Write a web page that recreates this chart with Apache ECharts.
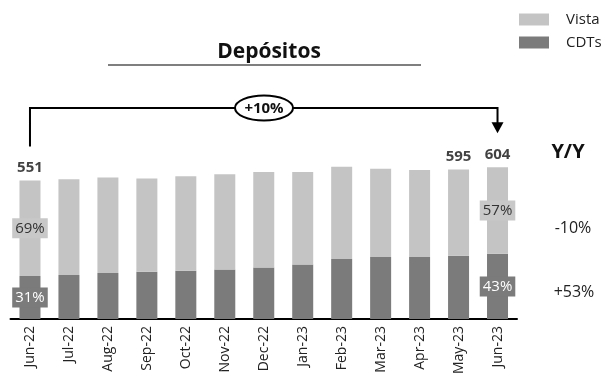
<!DOCTYPE html>
<html><head><meta charset="utf-8">
<script src="https://cdn.jsdelivr.net/npm/echarts@6/dist/echarts.min.js"></script>
<style>html,body{margin:0;padding:0;background:#fff}#c{width:608px;height:377px}</style>
</head><body><div id="c"></div>
<script>
var categories = ['Jun-22','Jul-22','Aug-22','Sep-22','Oct-22','Nov-22','Dec-22','Jan-23','Feb-23','Mar-23','Apr-23','May-23','Jun-23'];
var cdts  = [171,175,183,188,192,197,205,217,239,247,247,252,260];
var vista = [380,381,380,371,376,379,380,368,367,351,346,343,344];
var totals = [551,556,563,559,568,576,585,585,606,598,593,595,604];
var totalLabelIdx = [0,11,12];
var shareLabels = {0:['31%','69%'],12:['43%','57%']};
var yoyLabels = ['-10%','+53%'];
var growthLabel = '+10%';

var FONT = 'Open Sans';
var chart = echarts.init(document.getElementById('c'));

function segData(arr, k, bg, fg) {
  return arr.map(function(v, i) {
    if (shareLabels[i]) {
      return {value: v, label: {show: true, position: 'inside', formatter: shareLabels[i][k],
        backgroundColor: bg, color: fg, fontSize: 15, fontFamily: FONT, padding: [3,3,2,3]}};
    }
    return v;
  });
}

chart.setOption({
  animation: false,
  textStyle: {fontFamily: FONT},
  title: {text: 'Depósitos', left: 264, top: 37, textAlign: 'center',
    textStyle: {fontSize: 21, fontWeight: 'bold', color: '#111', fontFamily: FONT}},
  legend: {orient: 'vertical', left: 514, top: 7, itemWidth: 30, itemHeight: 12, itemGap: 8,
    icon: 'rect', textStyle: {fontSize: 15, color: '#222', fontFamily: FONT, padding: [0,0,0,12]},
    data: ['Vista','CDTs']},
  grid: {left: 10.5, right: 91, top: 118, bottom: 56},
  xAxis: {type: 'category', data: categories,
    axisLine: {lineStyle: {color: '#000', width: 2}}, axisTick: {show: false},
    axisLabel: {rotate: 90, fontSize: 14, color: '#222', margin: 7, fontFamily: FONT, interval: 0}},
  yAxis: {type: 'value', min: 0, max: 800, show: false, splitLine: {show: false}},
  series: [
    {name: 'CDTs', type: 'bar', stack: 't', barWidth: 21, itemStyle: {color: '#7b7b7b'},
      data: segData(cdts, 0, '#7b7b7b', '#fff')},
    {name: 'Vista', type: 'bar', stack: 't', barWidth: 21, itemStyle: {color: '#c4c4c4'},
      data: segData(vista, 1, '#c8c8c8', '#333')},
    {name: 'tot', type: 'scatter', symbolSize: 0, silent: true,
      data: totalLabelIdx.map(function(i){ return {value: [i, totals[i]]}; }),
      label: {show: true, position: 'top', distance: 5, fontSize: 15, fontWeight: 'bold', color: '#111', fontFamily: FONT,
        formatter: function(p){ return String(p.value[1]); }}}
  ]
});

function addGraphics() {
  var p0 = chart.convertToPixel({seriesIndex: 0}, [0, totals[0]]);
  var p1 = chart.convertToPixel({seriesIndex: 0}, [12, totals[12]]);
  var yTop = 108;
  var x0 = p0[0], x1 = p1[0];
  var midX = 264;
  var elements = [
    {type: 'line', shape: {x1: 108, y1: 65, x2: 421, y2: 65}, style: {stroke: '#7f7f7f', lineWidth: 2}},
    {type: 'polyline', shape: {points: [[x0, p0[1] - 34], [x0, yTop], [x1, yTop], [x1, p1[1] - 44]]},
      style: {stroke: '#000', lineWidth: 2, fill: null}},
    {type: 'polygon', shape: {points: [[x1 - 6, p1[1] - 45], [x1 + 6, p1[1] - 45], [x1, p1[1] - 34]]},
      style: {fill: '#000'}},
    {type: 'ellipse', shape: {cx: midX, cy: yTop, rx: 29, ry: 12.5}, style: {fill: '#fff', stroke: '#000', lineWidth: 2}},
    {type: 'text', x: midX, y: yTop + 1, style: {text: growthLabel, align: 'center', verticalAlign: 'middle',
      font: 'bold 15px "' + FONT + '"', fill: '#111'}},
    {type: 'text', x: 568, y: 152, style: {text: 'Y/Y', align: 'center', verticalAlign: 'middle',
      font: 'bold 20px "' + FONT + '"', fill: '#111'}},
    {type: 'text', x: 573, y: 228, style: {text: yoyLabels[0], align: 'center', verticalAlign: 'middle',
      font: '16px "' + FONT + '"', fill: '#222'}},
    {type: 'text', x: 574, y: 292, style: {text: yoyLabels[1], align: 'center', verticalAlign: 'middle',
      font: '16px "' + FONT + '"', fill: '#222'}}
  ];
  chart.setOption({graphic: elements});
}
addGraphics();
</script></body></html>
